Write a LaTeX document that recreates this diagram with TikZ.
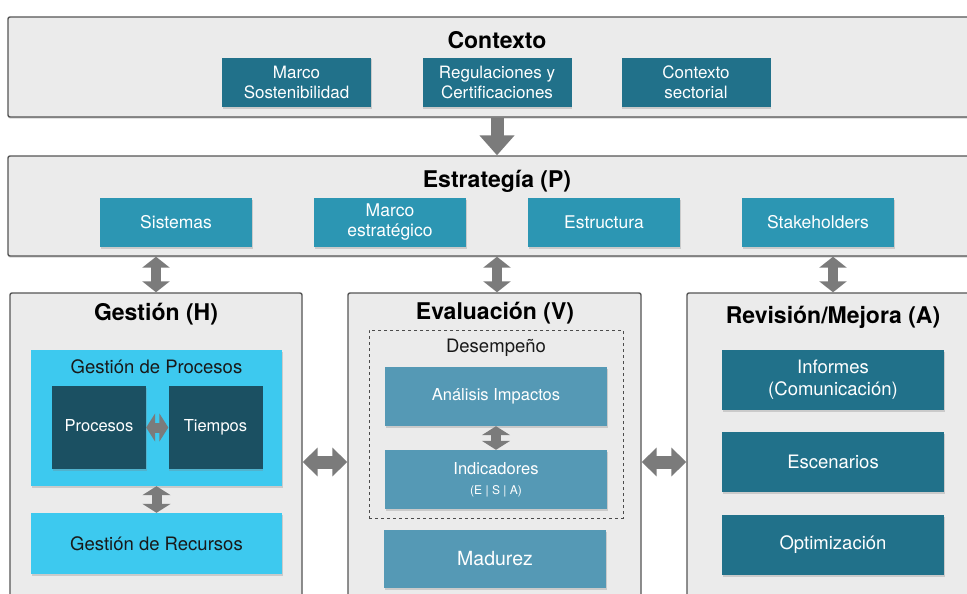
\documentclass[tikz,border=0pt]{standalone}
\usepackage{fontspec}
\setmainfont{TeX Gyre Heros}
\usetikzlibrary{arrows.meta,shadows}

\definecolor{panelgray}{HTML}{EBEBEB}
\definecolor{panelline}{HTML}{555555}
\definecolor{tealdark}{HTML}{21718A}
\definecolor{tealmid}{HTML}{2C96B3}
\definecolor{cyanlight}{HTML}{3DC9EF}
\definecolor{navydark}{HTML}{1B5062}
\definecolor{steelblue}{HTML}{5599B5}
\definecolor{arrowgray}{HTML}{7B7B7B}

\tikzset{
  panel/.style={draw=panelline, line width=1.4pt, fill=panelgray, rounded corners=2pt,
    inner sep=0pt, drop shadow={shadow xshift=0pt, shadow yshift=-1.5pt, opacity=0.35}},
  paneltitle/.style={font=\fontsize{23}{26}\selectfont\bfseries, text=black, inner sep=0pt},
  box/.style={inner sep=0pt, align=center, text=white,
    drop shadow={shadow xshift=0.5pt, shadow yshift=-1.5pt, opacity=0.3}},
  ctxbox/.style={box, fill=tealdark, minimum width=149pt, minimum height=49pt,
    font=\fontsize{17}{20}\selectfont},
  strbox/.style={box, fill=tealmid, minimum width=152pt, minimum height=49pt,
    font=\fontsize{17.5}{20}\selectfont},
  gesbox/.style={box, fill=cyanlight, text=black!90, minimum width=251pt},
  procbox/.style={box, fill=navydark, minimum width=94pt, minimum height=83pt,
    text height=12pt, text depth=3.5pt, font=\fontsize{16.5}{19}\selectfont},
  evabox/.style={box, fill=steelblue, minimum width=222pt, minimum height=59pt},
  revbox/.style={box, fill=tealdark, minimum width=222pt, minimum height=60pt,
    font=\fontsize{18.5}{22}\selectfont},
  fatsingle/.style={draw=arrowgray, line width=13pt, -{Triangle[width=34pt,length=20pt]}},
  fatvert/.style={draw=arrowgray, line width=10pt,
    {Triangle[width=27pt,length=11pt]}-{Triangle[width=27pt,length=11pt]}},
  fathoriz/.style={draw=arrowgray, line width=13pt,
    {Triangle[width=28pt,length=15pt]}-{Triangle[width=28pt,length=15pt]}},
  fatsmall/.style={draw=arrowgray, line width=10pt,
    {Triangle[width=28pt,length=9pt]}-{Triangle[width=28pt,length=9pt]}},
}

\begin{document}
\begin{tikzpicture}[x=1pt,y=-1pt]
  \useasboundingbox (0,0) rectangle (967,594);
  \clip (0,0) rectangle (967,594);
  \fill[white] (0,0) rectangle (967,594);

  % panels
  \node[panel, minimum width=972pt, minimum height=100pt] (ctx) at (494,67) {};
  \node[panel, minimum width=972pt, minimum height=100pt] (str) at (494,206) {};
  \node[panel, minimum width=292pt, minimum height=320pt] (ges) at (156,453) {};
  \node[panel, minimum width=293pt, minimum height=320pt] (eva) at (494.5,453) {};
  \node[panel, minimum width=303pt, minimum height=320pt] (rev) at (838.5,453) {};

  % Contexto
  \node[paneltitle] (ctxt) at (497,40) {Contexto};
  \node[ctxbox] (marco) at (296.5,82.5) {Marco\\Sostenibilidad};
  \node[ctxbox] (regul) at (497,82.5) {Regulaciones y\\Certificaciones};
  \node[ctxbox] (sector) at (696,82.5) {Contexto\\sectorial};

  % Estrategia
  \node[paneltitle] (strt) at (497,181) {Estrategía (P)};
  \node[strbox] (sis) at (176,222.5) {Sistemas};
  \node[strbox] (mest) at (390,222.5) {Marco\\estratégico};
  \node[strbox] (estr) at (604,222.5) {Estructura};
  \node[strbox] (stk) at (818,222.5) {Stakeholders};

  % Gestion
  \node[paneltitle] (gest) at (156,314) {Gestión (H)};
  \node[gesbox, minimum height=136pt] (gproc) at (156.5,418) {};
  \node[inner sep=0pt, font=\fontsize{18.5}{22}\selectfont, text=black!90] (gproct) at (156.5,367) {Gestión de Procesos};
  \node[procbox] (proc) at (99,427.5) {Procesos};
  \node[procbox] (tiem) at (215.5,427.5) {Tiempos};
  \node[gesbox, minimum height=61pt, font=\fontsize{18.5}{22}\selectfont] (grec) at (156.5,543.5) {Gestión de Recursos};

  % Evaluacion
  \node[paneltitle] (evat) at (495,313) {Evaluación (V)};
  \node[draw=black!70, dashed, line width=1pt, minimum width=254pt, minimum height=188pt, inner sep=0pt] (desemp) at (496,424) {};
  \node[inner sep=0pt, font=\fontsize{18.5}{22}\selectfont, text=black!90] (desempt) at (496,348) {Desempeño};
  \node[evabox, font=\fontsize{16.5}{20}\selectfont] (anal) at (496,396.5) {Análisis Impactos};
  \node[evabox, font=\fontsize{16.5}{20}\selectfont] (indic) at (496,479.5) {Indicadores\\{\fontsize{12}{14}\selectfont(E | S | A)}};
  \node[evabox, minimum height=58pt, font=\fontsize{19.5}{22}\selectfont] (madur) at (495,559) {Madurez};

  % Revision / Mejora
  \node[paneltitle] (revt) at (833,317) {Revisión/Mejora (A)};
  \node[revbox] (inf) at (833,380) {Informes\\(Comunicación)};
  \node[revbox] (esc) at (833,462) {Escenarios};
  \node[revbox] (opt) at (833,545) {Optimización};

  % arrows
  \draw[fatsingle] (ctx.south -| regul.south) -- (str.north -| regul.south);
  \draw[fatvert] (str.south -| ges.north) -- (ges.north);
  \draw[fatvert] (str.south -| regul.south) -- (eva.north -| regul.south);
  \draw[fatvert] (str.south -| inf.north) -- (rev.north -| inf.north);
  \draw[fathoriz] (ges.east |- esc.west) -- (eva.west |- esc.west);
  \draw[fathoriz] (eva.east |- esc.west) -- (rev.west |- esc.west);
  \draw[fatsmall] (proc.east) -- (tiem.west);
  \draw[fatsmall] (gproc.south) -- (grec.north);
  \draw[fatsmall] (anal.south) -- (indic.north);
\end{tikzpicture}
\end{document}
